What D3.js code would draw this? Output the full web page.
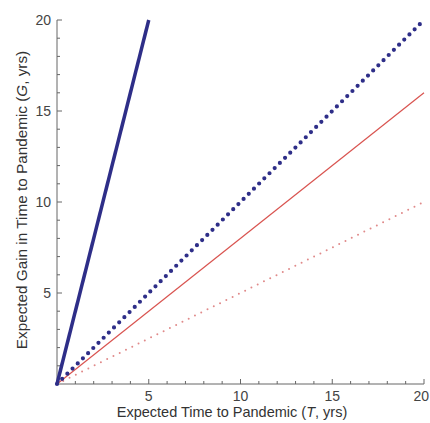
<!DOCTYPE html>
<html><head><meta charset="utf-8">
<script src="https://cdn.jsdelivr.net/npm/d3@7"></script>
<style>body{margin:0;background:#fff}svg{display:block}</style>
</head><body>
<script>
const xDomain = [0, 20];
const yDomain = [0, 20];
const majorTicks = [5, 10, 15, 20];
const minorTicks = d3.range(1, 20);
// lines: [T, G] endpoints
const blueSolid = [[0, 0], [5, 20]];
const blueDotted = [[0, 0], [20, 20]];
const redSolid = [[0, 0], [20, 16]];
const redDotted = [[0, 0], [20, 10]];

const W = 430, H = 423;
const svg = d3.select("body").append("svg").attr("width", W).attr("height", H);
const x = d3.scaleLinear().domain(xDomain).range([57, 424]);
const y = d3.scaleLinear().domain(yDomain).range([384, 20]);
const axisColor = "#666";
const font = "Liberation Sans, Arial, sans-serif";

const g = svg.append("g");
g.append("line").attr("x1", x(0)).attr("x2", x(20)).attr("y1", y(0)).attr("y2", y(0)).attr("stroke", axisColor).attr("stroke-width", 1);
g.append("line").attr("x1", x(0)).attr("x2", x(0)).attr("y1", y(0)).attr("y2", y(20)).attr("stroke", axisColor).attr("stroke-width", 1);
minorTicks.concat([20]).forEach(t => {
  const major = t % 5 === 0;
  const len = major ? 5 : 3;
  g.append("line").attr("x1", x(t)).attr("x2", x(t)).attr("y1", y(0)).attr("y2", y(0) - len).attr("stroke", axisColor);
  g.append("line").attr("x1", x(0)).attr("x2", x(0) + len).attr("y1", y(t)).attr("y2", y(t)).attr("stroke", axisColor);
});

majorTicks.forEach(t => {
  const last = t === 20;
  g.append("text").attr("x", last ? W - 1 : x(t)).attr("y", y(0) + 17).attr("text-anchor", last ? "end" : "middle")
    .attr("font-family", font).attr("font-size", 14).attr("fill", "#444").text(t);
  g.append("text").attr("x", x(0) - 6).attr("y", y(t) + 5).attr("text-anchor", "end")
    .attr("font-family", font).attr("font-size", 14).attr("fill", "#444").text(t);
});

const xt = svg.append("text").attr("x", 232).attr("y", 417).attr("text-anchor", "middle")
  .attr("font-family", font).attr("font-size", 14.5).attr("fill", "#333");
xt.append("tspan").text("Expected Time to Pandemic (");
xt.append("tspan").attr("font-style", "italic").text("T");
xt.append("tspan").text(", yrs)");
const yt = svg.append("text").attr("transform", `translate(27,200) rotate(-90)`).attr("text-anchor", "middle")
  .attr("font-family", font).attr("font-size", 15.3).attr("fill", "#333");
yt.append("tspan").text("Expected Gain in Time to Pandemic (");
yt.append("tspan").attr("font-style", "italic").text("G");
yt.append("tspan").text(", yrs)");

const line = d3.line().x(d => x(d[0])).y(d => y(d[1]));
svg.append("path").attr("d", line(redDotted)).attr("fill", "none").attr("stroke", "#e08a8a")
  .attr("stroke-width", 2).attr("stroke-dasharray", "0 7").attr("stroke-linecap", "round");
svg.append("path").attr("d", line(redSolid)).attr("fill", "none").attr("stroke", "#d9534f").attr("stroke-width", 1.2);
svg.append("path").attr("d", line(blueDotted)).attr("fill", "none").attr("stroke", "#2e2e88")
  .attr("stroke-width", 4.2).attr("stroke-dasharray", "0 7.3").attr("stroke-linecap", "round");
svg.append("path").attr("d", line(blueSolid)).attr("fill", "none").attr("stroke", "#2e2e88").attr("stroke-width", 3.5);
</script>
</body></html>
